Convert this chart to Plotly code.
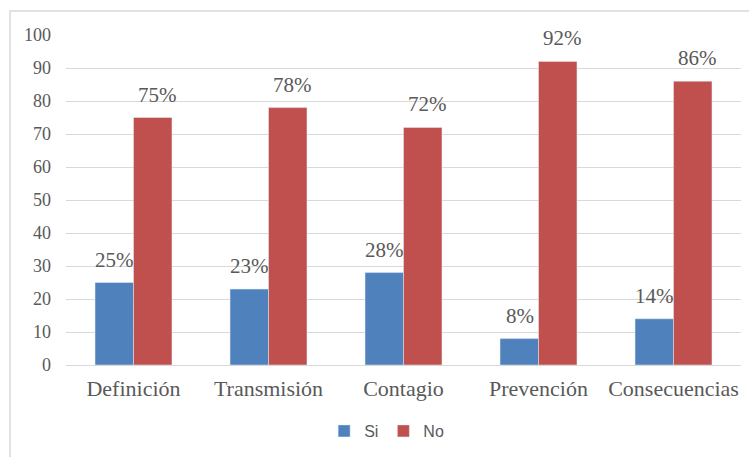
import plotly.graph_objects as go

categories = ["Definición", "Transmisión", "Contagio", "Prevención", "Consecuencias"]
si_values = [25, 23, 28, 8, 14]
no_values = [75, 78, 72, 92, 86]
y_ticks = [0, 10, 20, 30, 40, 50, 60, 70, 80, 90, 100]

W, H = 749, 457
L, R, T, B = 66, 8, 35, 92
pw, ph = W - L - R, H - T - B

serif = "Liberation Serif"
gray = "#595959"

fig = go.Figure()
fig.add_trace(go.Bar(name="Si", x=categories, y=si_values, marker_color="#4F81BD"))
fig.add_trace(go.Bar(name="No", x=categories, y=no_values, marker_color="#C0504D"))

annotations = []
for vals, xs in ((si_values, -19), (no_values, 24)):
    for c, v in zip(categories, vals):
        annotations.append(dict(x=c, y=v, xref="x", yref="y", text=f"{v}%", showarrow=False,
                                xanchor="center", yanchor="bottom", xshift=xs, yshift=9,
                                font=dict(family=serif, size=21, color=gray)))

fig.update_layout(
    width=W, height=H,
    margin=dict(l=L, r=R, t=T, b=B),
    paper_bgcolor="white", plot_bgcolor="white",
    barmode="group", bargap=0.43, bargroupgap=0,
    showlegend=True,
    legend=dict(orientation="h", x=0.475, xanchor="center", y=-0.2, yanchor="middle",
                font=dict(family="Liberation Sans", size=16, color=gray),
                itemwidth=30, tracegroupgap=0),
    xaxis=dict(showline=False, ticks="", ticklabelstandoff=8,
               tickfont=dict(family=serif, size=22, color=gray)),
    yaxis=dict(range=[0, 100], tickvals=y_ticks, showgrid=True, gridcolor="#D9D9D9", gridwidth=1,
               zeroline=True, zerolinecolor="#D9D9D9", zerolinewidth=1, showline=False,
               ticks="", ticklabelstandoff=14,
               tickfont=dict(family=serif, size=18, color=gray)),
    annotations=annotations,
    shapes=[dict(type="rect", xref="paper", yref="paper",
                 x0=(10 - L) / pw, x1=(W + 5 - L) / pw,
                 y0=-(B + 5) / ph, y1=(H - 11 - B) / ph,
                 line=dict(color="#D9D9D9", width=1.5), fillcolor="rgba(0,0,0,0)", layer="below")],
)

fig.write_html("out.html")
